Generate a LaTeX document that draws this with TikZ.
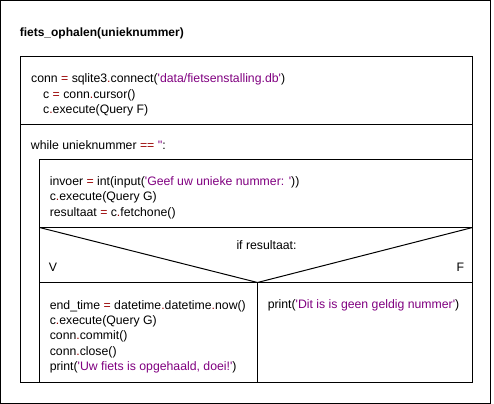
\documentclass[tikz,border=0pt]{standalone}
\usepackage{fontspec}
\setmainfont{Liberation Sans}
\usepackage{tikz}
\definecolor{opred}{HTML}{990000}
\definecolor{strpurple}{HTML}{800080}
\newcommand{\opeq}{\textcolor{opred}{=}}
\newcommand{\opdot}{\textcolor{opred}{.}}
\newcommand{\strtxt}[1]{\textcolor{strpurple}{#1}}
\newcommand{\sq}{\textquotesingle}

\begin{document}
\begin{tikzpicture}[x=0.75pt,y=-0.75pt,line width=0.75pt,
  code/.style={anchor=base west,inner sep=0pt,font=\fontsize{9.2}{11}\selectfont},
  title/.style={anchor=base west,inner sep=0pt,font=\fontsize{9}{11}\selectfont\bfseries}]
\useasboundingbox (0,0) rectangle (494,404);
\draw (0.5,0.5) rectangle (490.5,403.5);
\node[title] (titel) at (19.3,36) {fiets\_ophalen(unieknummer)};

\draw (20.5,56.5) rectangle (472.5,382.5);
\draw (20.5,124.5) -- (472.5,124.5);
\node[code] (conn) at (30.7,82.5) {conn \opeq{} sqlite3\opdot{}connect(\strtxt{\sq data/fietsenstalling.db\sq})};
\node[code] (cursor) at (42.7,98) {c \opeq{} conn\opdot{}cursor()};
\node[code] (queryf) at (42.7,113.5) {c\opdot{}execute(Query F)};

\node[code] (while) at (30.5,149) {while unieknummer \textcolor{opred}{==} \strtxt{\sq\sq}:};
\draw (39.5,382.5) -- (39.5,159.5) -- (472.5,159.5);
\node[code] (invoer) at (49.3,185) {invoer \opeq{} int(input(\strtxt{\sq Geef uw unieke nummer: \sq}))};
\node[code] (queryg) at (49.3,200.5) {c\opdot{}execute(Query G)};
\node[code] (fetch) at (49.3,216) {resultaat \opeq{} c\opdot{}fetchone()};

\draw (39.5,227.5) -- (472.5,227.5);
\draw (39.5,282.5) -- (472.5,282.5);
\draw (39.5,227.5) -- (257.5,282.5) -- (472.5,227.5);
\draw (257.5,282.5) -- (257.5,382.5);
\node[code] (als) at (236,249) {if resultaat:};
\node[code] (waar) at (48.5,271) {V};
\node[code] (onwaar) at (456,271) {F};

\node[code] (endtime) at (49.3,309) {end\_time \opeq{} datetime\opdot{}datetime\opdot{}now()};
\node[code] (queryg2) at (49.3,324.3) {c\opdot{}execute(Query G)};
\node[code] (commit) at (49.3,339.7) {conn\opdot{}commit()};
\node[code] (close) at (49.3,355) {conn\opdot{}close()};
\node[code] (doei) at (49.3,370.3) {print(\strtxt{\sq Uw fiets is opgehaald, doei!\sq})};
\node[code] (geldig) at (267.3,308.5) {print(\strtxt{\sq Dit is is geen geldig nummer\sq})};
\end{tikzpicture}
\end{document}
